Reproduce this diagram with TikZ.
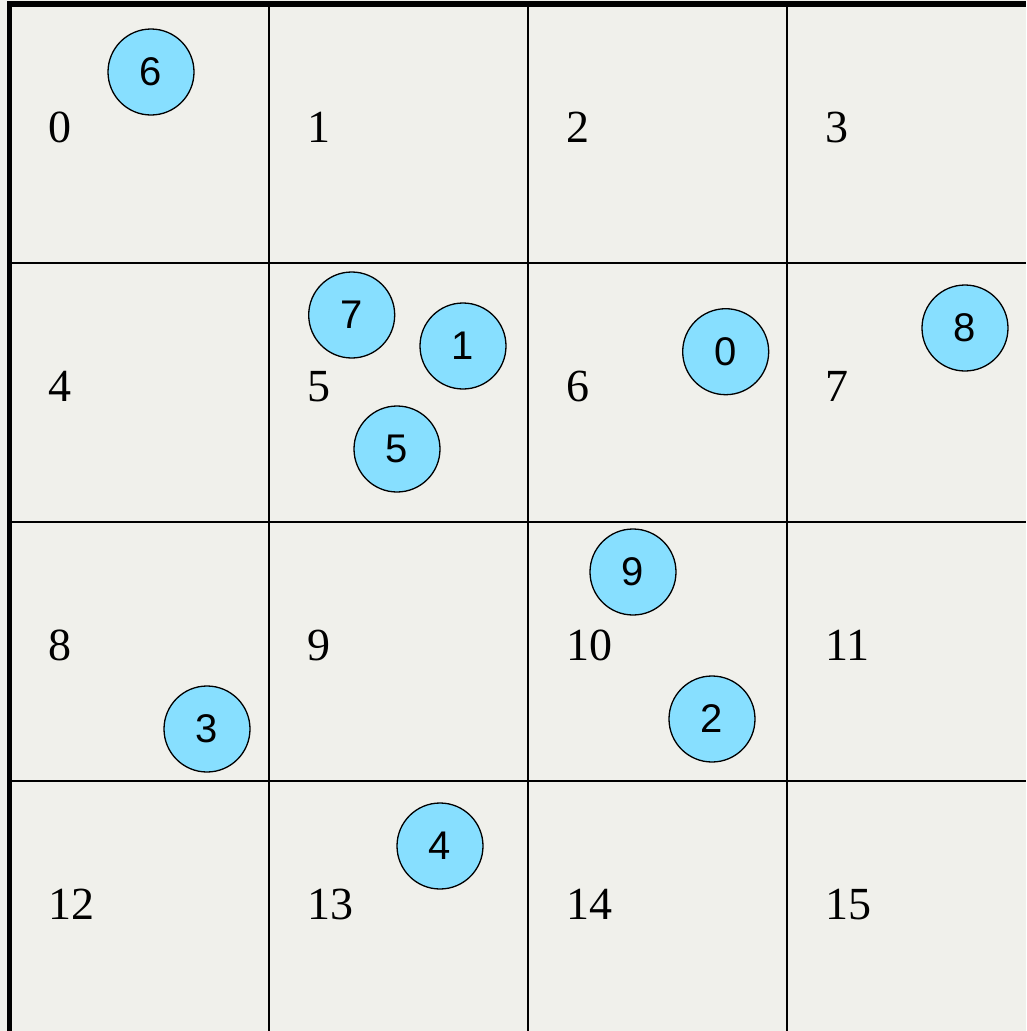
\documentclass[tikz,border=0pt]{standalone}
\usepackage{fontspec}
\setmainfont{Liberation Serif}
\newfontfamily\circfont{Liberation Sans}
\definecolor{bgc}{RGB}{240,240,235}
\definecolor{ballc}{RGB}{135,223,255}
\begin{document}
\begin{tikzpicture}[x=1pt,y=-1pt,
  ball/.style={circle,draw=black,line width=1.3pt,fill=ballc,minimum size=86pt,inner sep=0pt,font=\circfont\fontsize{40}{42}\selectfont},
  celllabel/.style={anchor=base west,inner sep=0pt,font=\fontsize{46}{48}\selectfont},
  gridline/.style={line width=2.2pt,black},
  edgeline/.style={line width=5.5pt,black}]
\fill[bgc] (0,0) rectangle (1026,1031);
\useasboundingbox (0,0) rectangle (1026,1031);
% grid
\foreach \x in {268.8,527.8,786.8} \draw[gridline] (\x,4) -- (\x,1031);
\foreach \y in {263,522,781} \draw[gridline] (9.5,\y) -- (1026,\y);
\draw[edgeline] (9.5,1.3) -- (9.5,1031);
\draw[edgeline] (7,4) -- (1026,4);
% cell labels
\foreach \i in {0,...,15}{
  \pgfmathtruncatemacro{\c}{mod(\i,4)}
  \pgfmathtruncatemacro{\r}{int(\i/4)}
  \node[celllabel] (lab\i) at ({48+259*\c},{142+259*\r}) {\i};
}
% balls
\node[ball] (b6) at (151,72) {6};
\node[ball] (b7) at (351.7,315) {7};
\node[ball] (b1) at (463,346) {1};
\node[ball] (b5) at (397,449) {5};
\node[ball] (b0) at (725.7,351.7) {0};
\node[ball] (b8) at (965,328) {8};
\node[ball] (b9) at (633,572) {9};
\node[ball] (b3) at (207,729) {3};
\node[ball] (b2) at (712,719) {2};
\node[ball] (b4) at (440,846) {4};
\end{tikzpicture}
\end{document}
